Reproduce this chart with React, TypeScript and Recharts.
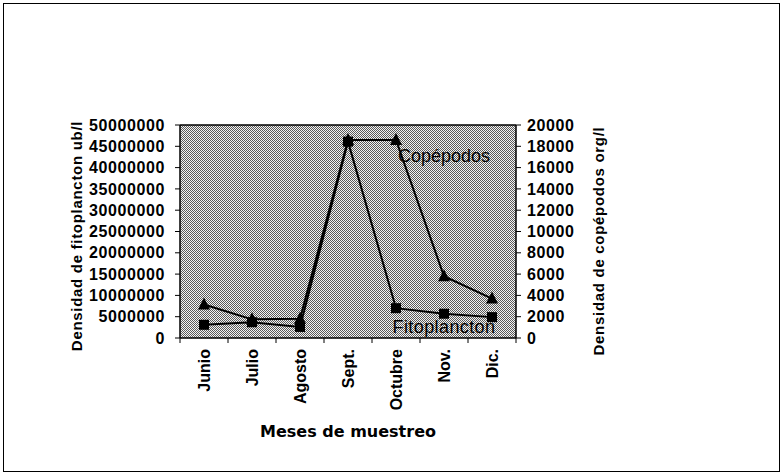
import { LineChart, Line, XAxis, YAxis, CartesianGrid, ReferenceDot, ReferenceLine } from 'recharts'

const months = ['Junio', 'Julio', 'Agosto', 'Sept.', 'Octubre', 'Nov.', 'Dic.']
const fitoplancton = [3100000, 3700000, 2600000, 46100000, 7000000, 5700000, 4900000]
const copepodos = [3150, 1750, 1800, 18600, 18600, 5800, 3700]
const leftTicks = [0, 5000000, 10000000, 15000000, 20000000, 25000000, 30000000, 35000000, 40000000, 45000000, 50000000]
const rightTicks = [0, 2000, 4000, 6000, 8000, 10000, 12000, 14000, 16000, 18000, 20000]

const data = months.map((m, i) => ({ month: m, fito: fitoplancton[i], cope: copepodos[i] }))

const W = 781
const H = 476
const PLOT = { left: 180, right: 516, top: 125, bottom: 338 }
const BAND = (PLOT.right - PLOT.left) / months.length
const FONT = '"Liberation Sans", Arial, sans-serif'

function MonthTick({ x, y, payload, index }: any) {
  const left = x - BAND / 2
  return (
    <g>
      <line x1={left} y1={y} x2={left} y2={y + 5} stroke="#000" />
      {index === months.length - 1 && (
        <line x1={x + BAND / 2} y1={y} x2={x + BAND / 2} y2={y + 5} stroke="#000" />
      )}
      <text
        x={x}
        y={y + 11}
        transform={`rotate(-90 ${x} ${y + 11})`}
        textAnchor="end"
        dominantBaseline="central"
        fontFamily={FONT}
        fontWeight={700}
        fontSize={16}
        fill="#000"
      >
        {payload.value}
      </text>
    </g>
  )
}

function Square({ cx, cy }: any) {
  if (cx == null || cy == null) return null
  return <rect x={cx - 5} y={cy - 5} width={10} height={10} fill="#000" />
}

function Triangle({ cx, cy }: any) {
  if (cx == null || cy == null) return null
  return <polygon points={`${cx},${cy - 7} ${cx - 6},${cy + 5} ${cx + 6},${cy + 5}`} fill="#000" />
}

const tickStyle = { fill: '#000', fontSize: 16, fontWeight: 700, fontFamily: FONT, letterSpacing: 0.6 }

export default function App() {
  return (
    <div style={{ position: 'absolute', left: 0, top: 0, width: W, height: H, background: '#fff' }}>
      <div
        style={{
          position: 'absolute',
          left: 3,
          top: 3,
          width: 775,
          height: 467,
          border: '1px solid #000',
        }}
      />
      <LineChart
        width={W}
        height={H}
        data={data}
        margin={{ top: PLOT.top, left: 80, right: W - PLOT.right - 100, bottom: H - PLOT.bottom - 100 }}
        style={{ position: 'absolute', left: 0, top: 0 }}
      >
        <defs>
          <pattern id="dither" width="2" height="2" patternUnits="userSpaceOnUse">
            <rect width="2" height="2" fill="#f4f4f4" />
            <rect width="1" height="1" fill="#5a5a5a" />
            <rect x="1" y="1" width="1" height="1" fill="#5a5a5a" />
          </pattern>
        </defs>
        <CartesianGrid horizontal={false} vertical={false} fill="url(#dither)" />
        <XAxis
          dataKey="month"
          height={100}
          padding={{ left: BAND / 2, right: BAND / 2 }}
          tickLine={false}
          tickSize={0}
          tickMargin={0}
          interval={0}
          axisLine={{ stroke: '#000', strokeWidth: 1.5 }}
          tick={<MonthTick />}
          label={{
            value: 'Meses de muestreo',
            content: () => (
              <text
                x={348}
                y={437}
                textAnchor="middle"
                fontFamily='"DejaVu Sans", Verdana, sans-serif'
                fontWeight={700}
                fontSize={16}
                fill="#000"
              >
                Meses de muestreo
              </text>
            ),
          }}
        />
        <YAxis
          width={100}
          domain={[0, 50000000]}
          ticks={leftTicks}
          interval={0}
          tickSize={5}
          tickMargin={10}
          axisLine={{ stroke: '#000', strokeWidth: 1.5 }}
          tickLine={{ stroke: '#000' }}
          tick={tickStyle}
          label={{
            value: 'Densidad de fitoplancton ub/l',
            content: () => (
              <text
                x={76}
                y={236}
                transform="rotate(-90 76 236)"
                textAnchor="middle"
                dominantBaseline="central"
                fontFamily={FONT}
                fontWeight={700}
                fontSize={15}
                letterSpacing={0.7}
                fill="#000"
              >
                Densidad de fitoplancton ub/l
              </text>
            ),
          }}
        />
        <YAxis
          yAxisId="right"
          orientation="right"
          width={100}
          domain={[0, 20000]}
          ticks={rightTicks}
          interval={0}
          tickSize={5}
          tickMargin={6}
          axisLine={{ stroke: '#000', strokeWidth: 1.5 }}
          tickLine={{ stroke: '#000' }}
          tick={tickStyle}
          label={{
            value: 'Densidad de copépodos org/l',
            content: () => (
              <text
                x={598}
                y={241}
                transform="rotate(-90 598 241)"
                textAnchor="middle"
                dominantBaseline="central"
                fontFamily={FONT}
                fontWeight={700}
                fontSize={15}
                letterSpacing={0.7}
                fill="#000"
              >
                Densidad de copépodos org/l
              </text>
            ),
          }}
        />
        <ReferenceLine y={50000000} stroke="#000" strokeWidth={1.5} />
        <Line
          dataKey="fito"
          stroke="#000"
          strokeWidth={2}
          dot={<Square />}
          isAnimationActive={false}
        />
        <Line
          yAxisId="right"
          dataKey="cope"
          stroke="#000"
          strokeWidth={2}
          dot={<Triangle />}
          isAnimationActive={false}
        />
        <ReferenceDot
          x="Nov."
          y={42900000}
          r={0}
          fill="none"
          stroke="none"
          label={{ value: 'Copépodos', position: 'center', fill: '#000', fontSize: 18, fontFamily: FONT }}
        />
        <ReferenceDot
          x="Nov."
          y={2700000}
          r={0}
          fill="none"
          stroke="none"
          label={{ value: 'Fitoplancton', position: 'center', fill: '#000', fontSize: 18, fontFamily: FONT, letterSpacing: 0.4 }}
        />
      </LineChart>
    </div>
  )
}
